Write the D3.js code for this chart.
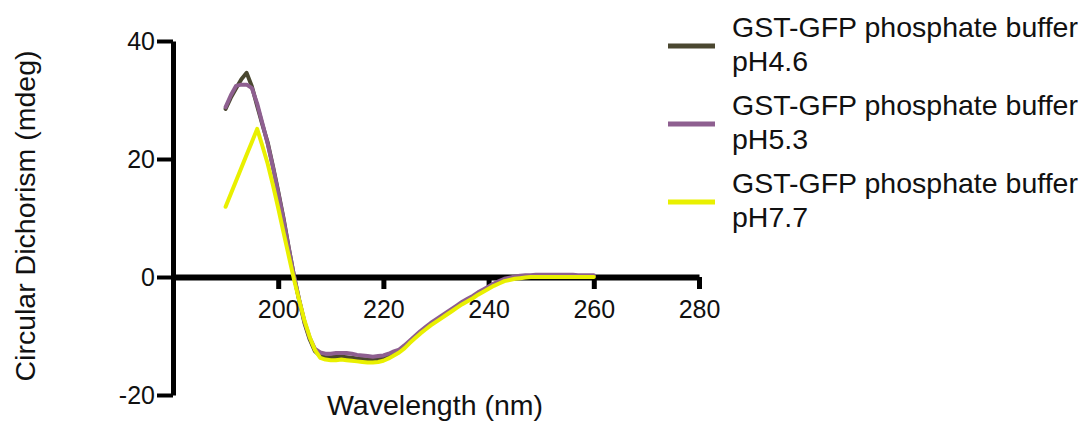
<!DOCTYPE html>
<html>
<head>
<meta charset="utf-8">
<script src="https://cdn.jsdelivr.net/npm/d3@7"></script>
<style>
  html, body { margin: 0; padding: 0; background: #ffffff; }
  svg { display: block; }
  text { font-family: "Liberation Sans", Arial, Helvetica, sans-serif; fill: #111; }
</style>
</head>
<body>
<svg id="chart" width="1085" height="426"></svg>
<script>
// Wavelength grid (nm) shared by all three spectra
const wavelength = d3.range(190, 261);

// CD signal (mdeg), GST-GFP in phosphate buffer pH 4.6
const ph46 = [
  28.5, 30.4, 32.0, 33.5, 34.6, 32.3, 29.0, 25.8, 22.8, 18.8,
  14.5, 10.0, 5.0, 0.2, -4.0, -7.8, -10.6, -12.6, -13.4, -13.6,
  -13.6, -13.5, -13.5, -13.6, -13.7, -13.8, -13.9, -14.0, -14.0, -13.9,
  -13.7, -13.4, -13.0, -12.5, -11.8, -11.0, -10.2, -9.4, -8.7, -8.0,
  -7.4, -6.8, -6.2, -5.6, -5.0, -4.4, -3.9, -3.4, -2.8, -2.3,
  -1.8, -1.3, -0.9, -0.5, -0.3, -0.1, 0.0, 0.1, 0.1, 0.1,
  0.1, 0.1, 0.1, 0.1, 0.1, 0.1, 0.1, 0.1, 0.1, 0.1,
  0.1
];

// CD signal (mdeg), pH 5.3
const ph53 = [
  28.8, 30.8, 32.4, 32.6, 32.6, 32.0, 29.4, 26.0, 22.6, 18.6,
  14.3, 9.8, 4.9, 0.2, -3.9, -7.6, -10.3, -12.2, -12.8, -13.0,
  -13.0, -12.9, -12.9, -12.9, -13.0, -13.2, -13.3, -13.4, -13.5, -13.4,
  -13.3, -13.0, -12.6, -12.3, -11.6, -10.8, -10.0, -9.2, -8.5, -7.8,
  -7.2, -6.6, -6.0, -5.4, -4.8, -4.2, -3.7, -3.2, -2.6, -2.1,
  -1.6, -1.1, -0.7, -0.3, -0.1, 0.1, 0.2, 0.3, 0.3, 0.4,
  0.4, 0.4, 0.4, 0.4, 0.4, 0.4, 0.4, 0.3, 0.3, 0.3,
  0.3
];

// CD signal (mdeg), pH 7.7
const ph77 = [
  11.9, 14.1, 16.3, 18.5, 20.7, 22.9, 25.1, 22.2, 19.2, 15.6,
  11.7, 7.6, 3.6, -0.4, -4.0, -7.4, -10.2, -12.4, -13.7, -14.0,
  -14.1, -14.1, -14.0, -14.1, -14.2, -14.3, -14.4, -14.5, -14.5, -14.4,
  -14.2, -13.8, -13.3, -12.8, -12.1, -11.2, -10.4, -9.6, -8.9, -8.2,
  -7.6, -7.0, -6.4, -5.8, -5.2, -4.6, -4.1, -3.6, -3.0, -2.5,
  -2.0, -1.5, -1.1, -0.7, -0.5, -0.3, -0.2, -0.1, 0.0, 0.0,
  0.0, 0.0, 0.0, 0.0, 0.0, 0.0, 0.0, 0.0, 0.0, 0.0,
  0.0
];

const seriesNames = [
  ["GST-GFP phosphate buffer", "pH4.6"],
  ["GST-GFP phosphate buffer", "pH5.3"],
  ["GST-GFP phosphate buffer", "pH7.7"]
];
const seriesColors = ["#4a4730", "#8e5f90", "#e9f000"];

const xTicks = [200, 220, 240, 260, 280];
const yTicks = [-20, 0, 20, 40];

const svg = d3.select("#chart");

const x = d3.scaleLinear().domain([180, 280]).range([173, 699]);
const y = d3.scaleLinear().domain([-20, 40]).range([395, 41]);

// plain hyphen for negatives
const fmt = d => String(d);

// Y axis
const yAxis = svg.append("g")
  .attr("transform", `translate(${x(180)},0)`)
  .call(d3.axisLeft(y).tickValues(yTicks).tickFormat(fmt)
    .tickSize(16).tickSizeOuter(0).tickPadding(2));
yAxis.select(".domain").attr("stroke", "#000").attr("stroke-width", 5);
yAxis.selectAll(".tick line").attr("stroke", "#000").attr("stroke-width", 4);
yAxis.selectAll(".tick text").attr("font-size", 25)
  .style("font-family", "'Liberation Sans', Arial, sans-serif").attr("fill", "#111");

// X axis drawn along y = 0
const xAxis = svg.append("g")
  .attr("transform", `translate(0,${y(0)})`)
  .call(d3.axisBottom(x).tickValues(xTicks).tickFormat(fmt)
    .tickSize(12).tickSizeOuter(0).tickPadding(11));
xAxis.select(".domain").attr("stroke", "#000").attr("stroke-width", 6);
xAxis.selectAll(".tick line").attr("stroke", "#000").attr("stroke-width", 5);
xAxis.selectAll(".tick text").attr("font-size", 25)
  .style("font-family", "'Liberation Sans', Arial, sans-serif").attr("fill", "#111");

// Spectra
const series = [ph46, ph53, ph77];
const line = d3.line()
  .x((d, i) => x(wavelength[i]))
  .y(d => y(d));

svg.append("g").selectAll("path")
  .data(series)
  .join("path")
  .attr("d", line)
  .attr("fill", "none")
  .attr("stroke", (d, i) => seriesColors[i])
  .attr("stroke-width", 4)
  .attr("stroke-linejoin", "round")
  .attr("stroke-linecap", "round");

// Axis titles
svg.append("text")
  .attr("transform", `translate(35,216) rotate(-90)`)
  .attr("text-anchor", "middle")
  .attr("font-size", 28.5)
  .text("Circular Dichorism (mdeg)");

svg.append("text")
  .attr("x", 435).attr("y", 415)
  .attr("text-anchor", "middle")
  .attr("font-size", 28.5)
  .text("Wavelength (nm)");

// Legend
const legendTop = [37, 115, 193];
const legend = svg.append("g");
seriesNames.forEach((lines, i) => {
  const g = legend.append("g");
  g.append("line")
    .attr("x1", 668).attr("x2", 715)
    .attr("y1", legendTop[i] + 9).attr("y2", legendTop[i] + 9)
    .attr("stroke", seriesColors[i]).attr("stroke-width", 5);
  lines.forEach((t, j) => {
    g.append("text")
      .attr("x", 732)
      .attr("y", legendTop[i] + j * 34)
      .attr("font-size", 28.5)
      .text(t);
  });
});
</script>
</body>
</html>
